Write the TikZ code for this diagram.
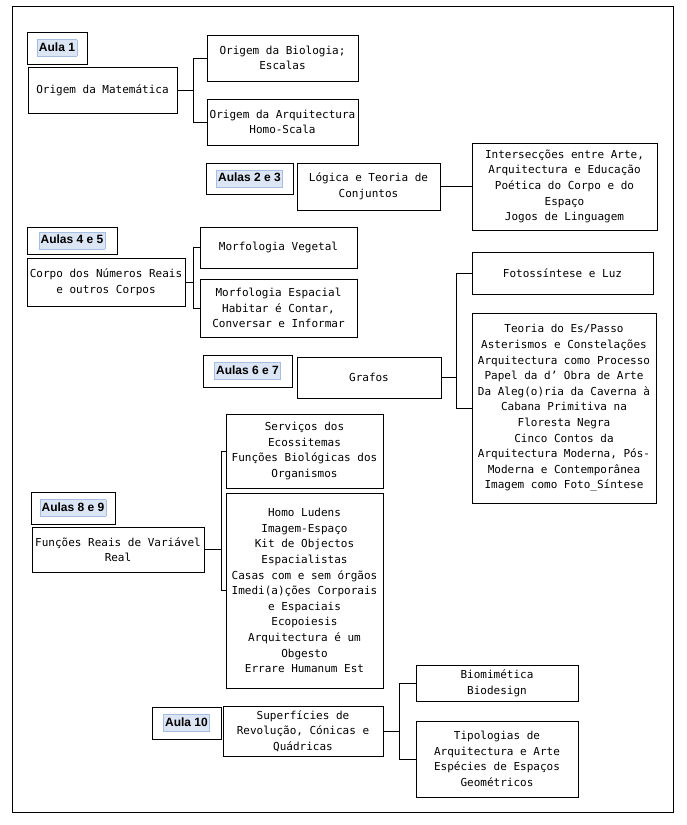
\documentclass[tikz,border=0pt]{standalone}
\usepackage{fontspec}
\setmainfont{DejaVu Sans Mono}
\newfontfamily\aulafont{Liberation Sans}
\usetikzlibrary{calc}
\definecolor{hlfill}{RGB}{219,229,243}
\definecolor{hlborder}{RGB}{165,190,225}
\newcommand\hlab[1]{{\setlength\fboxsep{1.5pt}\setlength\fboxrule{0.6pt}\fcolorbox{hlborder}{hlfill}{\rule[-3.5pt]{0pt}{13pt}\aulafont\bfseries\fontsize{12}{14}\selectfont #1}}}
\newcommand\bx[6]{\node[mybox, minimum width={(#4)-(#2)}, minimum height={(#5)-(#3)}] (#1) at ({((#2)+(#4))/2},{((#3)+(#5))/2}) {#6};}
\newcommand\au[6]{\node[aulabox, minimum width={(#4)-(#2)}, minimum height={(#5)-(#3)}] (#1) at ({((#2)+(#4))/2},{((#3)+(#5))/2}) {\hlab{#6}};}
\begin{document}
\begin{tikzpicture}[x=1pt,y=-1pt,
  mybox/.style={draw=black, line width=0.9pt, inner sep=0pt, align=center, font=\fontsize{11}{15.6}\selectfont},
  aulabox/.style={draw=black, line width=0.9pt, inner sep=0pt},
  conn/.style={draw=black, line width=0.9pt}]
\useasboundingbox (0,0) rectangle (686,825);
\draw[line width=0.9pt] (12,6) rectangle (673,812);

% Aula 1
\au{a1}{27}{32}{87}{64}{Aula 1}
\bx{mat}{28}{67}{177}{113}{Origem da Matemática}
\bx{bio}{207}{35}{358}{81}{Origem da Biologia;\\Escalas}
\bx{arq}{207}{99}{358}{145}{Origem da Arquitectura\\Homo-Scala}
\draw[conn] (mat.east) -- ($(mat.east)+(16,0)$) coordinate (j1);
\draw[conn] (bio.west) -| (j1) |- (arq.west);

% Aulas 2 e 3
\au{a23}{206}{163}{293}{194}{Aulas 2 e 3}
\bx{log}{297}{163}{440}{210}{Lógica e Teoria de\\Conjuntos}
\bx{int}{472}{143}{657}{230}{Intersecções entre Arte,\\Arquitectura e Educação\\Poética do Corpo e do\\Espaço\\Jogos de Linguagem}
\draw[conn] (log.east) -- (int.west);

% Aulas 4 e 5
\au{a45}{27}{227}{117}{254}{Aulas 4 e 5}
\bx{corpo}{27}{258}{185}{306}{Corpo dos Números Reais\\e outros Corpos}
\bx{veg}{200}{227}{357}{268}{Morfologia Vegetal}
\bx{esp}{200}{279}{357}{337}{Morfologia Espacial\\Habitar é Contar,\\Conversar e Informar}
\draw[conn] (corpo.east) -- ($(corpo.east)+(8,0)$) coordinate (j2);
\draw[conn] (veg.west) -| (j2) |- (esp.west);

% Aulas 6 e 7
\au{a67}{203}{355}{292}{387}{Aulas 6 e 7}
\bx{graf}{297}{357}{441}{398}{Grafos}
\bx{foto}{472}{252}{653}{294}{Fotossíntese e Luz}
\bx{teo}{472}{313}{656}{503}{Teoria do Es/Passo\\Asterismos e Constelações\\Arquitectura como Processo\\Papel da d’ Obra de Arte\\Da Aleg(o)ria da Caverna à\\Cabana Primitiva na\\Floresta Negra\\Cinco Contos da\\Arquitectura Moderna, Pós-\\Moderna e Contemporânea\\Imagem como Foto\_Síntese}
\draw[conn] (graf.east) -- ($(graf.east)+(15,0)$) coordinate (j3);
\draw[conn] (foto.west) -| (j3) |- (teo.west);

% Aulas 8 e 9
\au{a89}{31}{492}{115}{524}{Aulas 8 e 9}
\bx{func}{32}{527}{204}{572}{Funções Reais de Variável\\Real}
\bx{serv}{226}{414}{383}{488}{Serviços dos\\Ecossitemas\\Funções Biológicas dos\\Organismos}
\bx{homo}{226}{493}{383}{688}{Homo Ludens\\Imagem-Espaço\\Kit de Objectos\\Espacialistas\\Casas com e sem órgãos\\Imedi(a)ções Corporais\\e Espaciais\\Ecopoiesis\\Arquitectura é um\\Obgesto\\Errare Humanum Est}
\draw[conn] (func.east) -- ($(func.east)+(17,0)$) coordinate (j4);
\draw[conn] (serv.west) -| (j4) |- (homo.west);

% Aula 10
\au{a10}{152}{707}{221}{739}{Aula 10}
\bx{sup}{223}{706}{383}{756}{Superfícies de\\Revolução, Cónicas e\\Quádricas}
\bx{biom}{416}{665}{578}{701}{Biomimética\\Biodesign}
\bx{tipo}{416}{721}{578}{797}{Tipologias de\\Arquitectura e Arte\\Espécies de Espaços\\Geométricos}
\draw[conn] (sup.east) -- ($(sup.east)+(16,0)$) coordinate (j5);
\draw[conn] (biom.west) -| (j5) |- (tipo.west);
\end{tikzpicture}
\end{document}
